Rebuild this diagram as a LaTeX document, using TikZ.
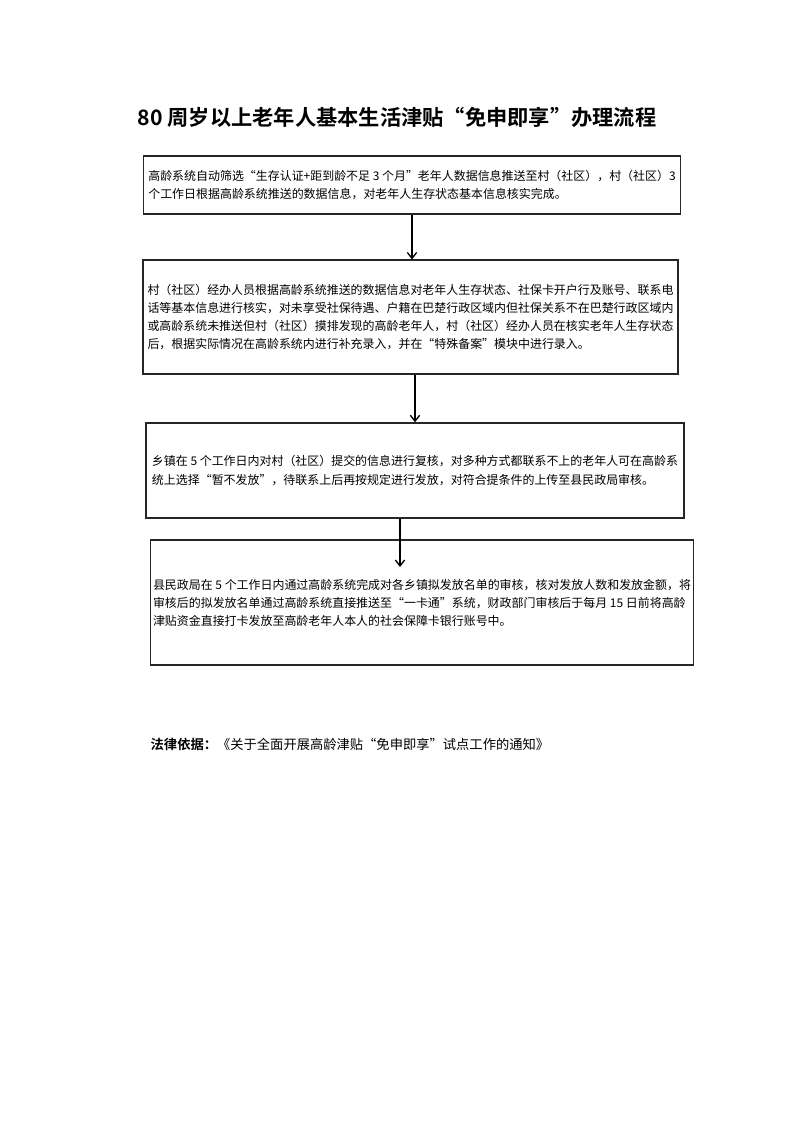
\documentclass[tikz,border=0pt]{standalone}
\usepackage{fontspec}
\setmainfont{Noto Sans CJK SC}[BoldFont={Noto Sans CJK SC Bold}]
\usetikzlibrary{arrows.meta,positioning,calc}

\begin{document}
\begin{tikzpicture}[x=0.2646mm,y=-0.2646mm,
  stepbox/.style={rectangle,draw=black!85,line width=1.1pt,align=left,
    inner sep=2pt,font=\fontsize{9}{13.6}\selectfont},
  arr/.style={line width=1pt,-{Straight Barb[length=4.5pt,width=7pt]}}]
  \useasboundingbox (0,0) rectangle (793,1122);
  \node[font=\bfseries\fontsize{16}{19}\selectfont] (title) at (397,117)
    {80 周岁以上老年人基本生活津贴“免申即享”办理流程};
  \node[stepbox,minimum width=404pt,minimum height=43.5pt] (b1) at (412,185)
    {高龄系统自动筛选“生存认证+距到龄不足 3 个月”老年人数据信息推送至村（社区），村（社区）3\\
     个工作日根据高龄系统推送的数据信息，对老年人生存状态基本信息核实完成。};
  \node[stepbox,minimum width=403pt,minimum height=85.5pt] (b2) at (410.5,317)
    {村（社区）经办人员根据高龄系统推送的数据信息对老年人生存状态、社保卡开户行及账号、联系电\\
     话等基本信息进行核实，对未享受社保待遇、户籍在巴楚行政区域内但社保关系不在巴楚行政区域内\\
     或高龄系统未推送但村（社区）摸排发现的高龄老年人，村（社区）经办人员在核实老年人生存状态\\
     后，根据实际情况在高龄系统内进行补充录入，并在“特殊备案”模块中进行录入。};
  \node[stepbox,minimum width=405pt,minimum height=71.5pt] (b3) at (415,470.5)
    {乡镇在 5 个工作日内对村（社区）提交的信息进行复核，对多种方式都联系不上的老年人可在高龄系\\
     统上选择“暂不发放”，待联系上后再按规定进行发放，对符合提条件的上传至县民政局审核。};
  \node[stepbox,minimum width=402pt,minimum height=94pt] (b4) at (422,602.5)
    {县民政局在 5 个工作日内通过高龄系统完成对各乡镇拟发放名单的审核，核对发放人数和发放金额，将\\
     审核后的拟发放名单通过高龄系统直接推送至“一卡通”系统，财政部门审核后于每月 15 日前将高龄\\
     津贴资金直接打卡发放至高龄老年人本人的社会保障卡银行账号中。};
  \coordinate (a3end) at (400,567);
  \draw[arr] (b1.south) -- (b1.south |- b2.north);
  \draw[arr] (b2.south -| b3.north) -- (b3.north);
  \draw[arr] (b3.south -| a3end) -- (a3end);
  \node[anchor=west,font=\fontsize{10}{12}\selectfont] (basis) at (146,744)
    {\textbf{法律依据：}《关于全面开展高龄津贴“免申即享”试点工作的通知》};
\end{tikzpicture}
\end{document}
